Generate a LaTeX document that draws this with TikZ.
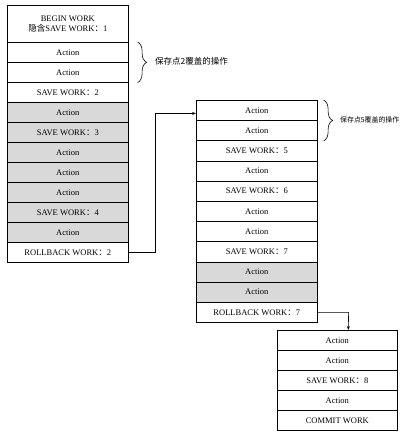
\documentclass[tikz,border=0pt]{standalone}
\usepackage{fontspec}
\setmainfont{Liberation Serif}
\newfontfamily\cjk{Noto Sans CJK SC}
\usetikzlibrary{arrows.meta,decorations.pathreplacing}
\newcommand\fcol{{\cjk ：}}
\begin{document}
\begin{tikzpicture}[x=1pt,y=-1pt,
  cell/.style={draw, line width=0.6pt, minimum width=121pt, minimum height=20pt, inner sep=0pt, anchor=north west, font=\fontsize{8.5}{10}\selectfont},
  shade/.style={cell, fill=gray!30},
  conn/.style={line width=0.6pt, -{Stealth[length=4pt,width=3pt]}},
  br/.style={line width=0.6pt, decorate, decoration={brace, amplitude=9pt}},
  lbl/.style={anchor=west, inner sep=0pt, font=\cjk\fontsize{8.5}{10}\selectfont}]
\useasboundingbox (0,0) rectangle (405,435);
% left stack
\node[cell, minimum height=37pt, align=center] (L0) at (7,5) {BEGIN WORK\\{\cjk 隐含}SAVE WORK\fcol 1};
\node[cell] (L1) at (7,42) {Action};
\node[cell] (L2) at (7,62) {Action};
\node[cell] (L3) at (7,82) {SAVE WORK\fcol 2};
\node[shade] (L4) at (7,102) {Action};
\node[shade] (L5) at (7,122) {SAVE WORK\fcol 3};
\node[shade] (L6) at (7,142) {Action};
\node[shade] (L7) at (7,162) {Action};
\node[shade] (L8) at (7,182) {Action};
\node[shade] (L9) at (7,202) {SAVE WORK\fcol 4};
\node[shade] (L10) at (7,222) {Action};
\node[cell] (L11) at (7,242) {ROLLBACK WORK\fcol 2};
% middle stack
\node[cell, minimum height=20.2pt] (M1) at (196,100) {Action};
\node[cell, minimum height=20.2pt] (M2) at (196,120.2) {Action};
\node[cell, minimum height=20.2pt] (M3) at (196,140.4) {SAVE WORK\fcol 5};
\node[cell, minimum height=20.2pt] (M4) at (196,160.6) {Action};
\node[cell, minimum height=20.2pt] (M5) at (196,180.8) {SAVE WORK\fcol 6};
\node[cell, minimum height=20.2pt] (M6) at (196,201) {Action};
\node[cell, minimum height=20.2pt] (M7) at (196,221.2) {Action};
\node[cell, minimum height=20.2pt] (M8) at (196,241.4) {SAVE WORK\fcol 7};
\node[shade, minimum height=20.2pt] (M9) at (196,261.6) {Action};
\node[shade, minimum height=20.2pt] (M10) at (196,281.8) {Action};
\node[cell, minimum height=20.2pt] (M11) at (196,302) {ROLLBACK WORK\fcol 7};
% right stack
\node[cell, minimum width=120pt] (T1) at (277,330) {Action};
\node[cell, minimum width=120pt] (T2) at (277,350) {Action};
\node[cell, minimum width=120pt] (T3) at (277,370) {SAVE WORK\fcol 8};
\node[cell, minimum width=120pt] (T4) at (277,390) {Action};
\node[cell, minimum width=120pt] (T5) at (277,410) {COMMIT WORK};
% connectors
\draw[conn] (L11.east) -- ++(27,0) |- ([yshift=-3pt]M1.west);
\draw[conn] (M11.east) -- ++(31,0) -- ([xshift=11pt]T1.north);
% braces
\draw[br] ([xshift=9pt]L1.north east) -- ([xshift=9pt]L2.south east);
\node[lbl] (B1) at (155,61) {保存点2覆盖的操作};
\draw[br] ([xshift=6pt]M1.north east) -- ([xshift=6pt]M2.south east);
\node[lbl, font=\cjk\fontsize{6.9}{8}\selectfont] (B2) at (340,120) {保存点5覆盖的操作};
\end{tikzpicture}
\end{document}
